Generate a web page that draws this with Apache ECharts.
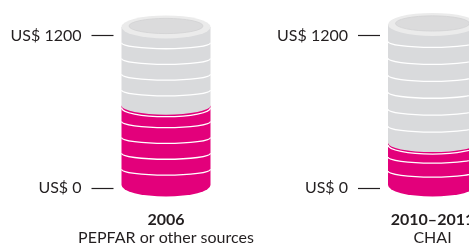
<!DOCTYPE html>
<html>
<head>
<meta charset="utf-8">
<title></title>
<script src="https://cdn.jsdelivr.net/npm/echarts@6/dist/echarts.min.js"></script>
<style>html,body{margin:0;padding:0;background:#fff;}</style>
</head>
<body>
<div id="my" style="width:469px;height:244px;"></div>
<script>
var years = ['2006', '2010–2011'];
var sources = ['PEPFAR or other sources', 'CHAI'];
var pinkValues = [625, 330];
var grayValues = [620, 935];
var pinkDiscs = [5, 3];
var grayDiscs = [5, 7];
var axisMin = 0;
var axisMax = 1200;

var myChart = echarts.init(document.getElementById('my'));

// one coin stack per grid
function renderStack(params, api) {
	var cat = api.value(0);
	var lift = 3;
	var cx = api.coord([cat, 0])[0];
	var y0 = api.coord([cat, 0])[1] - lift;
	var yp = api.coord([cat, api.value(1)])[1] - lift;
	var yt = api.coord([cat, api.value(1) + api.value(2)])[1] - lift;
	var r = 44.5, ry = 11.5;
	var L = cx - r, R = cx + r;
	var kids = [];

	kids.push({type: 'path', shape: {pathData:
		'M' + L + ' ' + yp + ' L' + L + ' ' + y0 + ' A' + r + ' ' + ry + ' 0 0 0 ' + R + ' ' + y0 + ' L' + R + ' ' + yp + ' Z'},
		style: {fill: '#e3007b'}});
	kids.push({type: 'path', shape: {pathData:
		'M' + L + ' ' + yt + ' L' + L + ' ' + yp + ' A' + r + ' 9 0 0 0 ' + R + ' ' + yp + ' L' + R + ' ' + yt + ' Z'},
		style: {fill: '#d9dadc'}});

	function arc(y, d) {
		kids.push({type: 'path', shape: {pathData:
			'M' + L + ' ' + y + ' A' + r + ' ' + d + ' 0 0 0 ' + R + ' ' + y},
			style: {fill: null, stroke: '#ffffff', lineWidth: 1.3}});
	}
	var np = api.value(3), ng = api.value(4);
	for (var i = 1; i < np; i++) arc(y0 - i * (y0 - yp) / np, 6);
	arc(yp + 2, 9);
	for (var j = 1; j < ng; j++) arc(yp - j * (yp - yt) / ng, 6);

	// top face
	kids.push({type: 'path', shape: {pathData:
		'M' + L + ' ' + yt + ' A' + r + ' ' + ry + ' 0 1 0 ' + R + ' ' + yt + ' A' + r + ' ' + ry + ' 0 1 0 ' + L + ' ' + yt + ' Z'},
		style: {fill: '#ebebeb'}});
	var ir = 37, iry = 7.6, iy = yt - 1;
	kids.push({type: 'path', shape: {pathData:
		'M' + (cx - ir) + ' ' + iy + ' A' + ir + ' ' + iry + ' 0 1 0 ' + (cx + ir) + ' ' + iy + ' A' + ir + ' ' + iry + ' 0 1 0 ' + (cx - ir) + ' ' + iy + ' Z'},
		style: {fill: '#dbdbdc', stroke: '#d2d2d3', lineWidth: 0.8}});

	return {type: 'group', children: kids};
}

var grids = [], xAxes = [], yAxes = [], series = [];
var gridLeft = [113.5, 380];
for (var k = 0; k < years.length; k++) {
	grids.push({left: gridLeft[k], width: 105, top: 35.7, bottom: 56, outerBoundsMode: 'none'});
	xAxes.push({
		type: 'category', gridIndex: k, data: [years[k]],
		axisLine: {show: false}, axisTick: {show: false},
		axisLabel: {
			margin: 23,
			formatter: function (v) {
				return '{b|' + v + '}\n{n|' + sources[years.indexOf(v)] + '}';
			},
			rich: {
				b: {fontFamily: 'Lato', fontWeight: 'bold', fontSize: 16, color: '#231f20', lineHeight: 18},
				n: {fontFamily: 'Lato', fontSize: 16, color: '#231f20', lineHeight: 18}
			}
		}
	});
	yAxes.push({
		type: 'value', gridIndex: k, min: axisMin, max: axisMax, interval: axisMax,
		axisLine: {show: false},
		axisTick: {show: true, length: 22, lineStyle: {color: '#231f20', width: 1.2}},
		splitLine: {show: false},
		axisLabel: {margin: 32, fontFamily: 'Lato', fontSize: 16, color: '#231f20',
			formatter: function (v) { return 'US$ ' + v; }}
	});
	series.push({
		type: 'custom', xAxisIndex: k, yAxisIndex: k, clip: false,
		renderItem: renderStack,
		data: [[0, pinkValues[k], grayValues[k], pinkDiscs[k], grayDiscs[k]]]
	});
}

myChart.setOption({
	animation: false,
	grid: grids,
	xAxis: xAxes,
	yAxis: yAxes,
	series: series
});
</script>
</body>
</html>
